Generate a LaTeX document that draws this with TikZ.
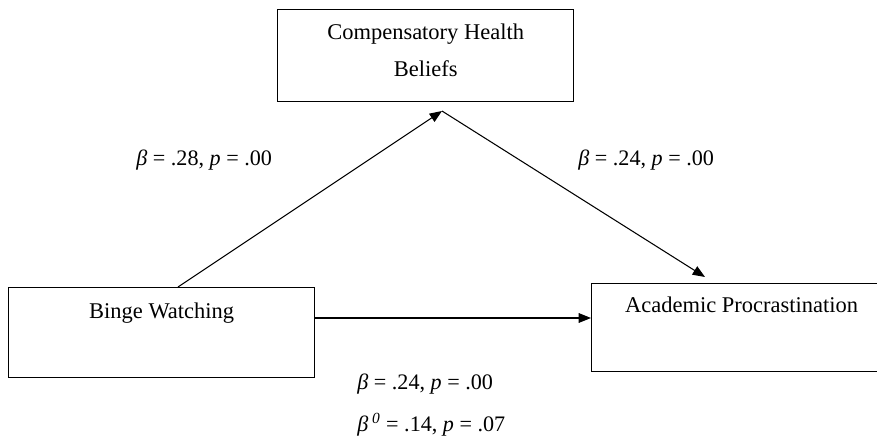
\documentclass[tikz,border=0pt]{standalone}
\usepackage{fontspec}
\setmainfont{Liberation Serif}
\usetikzlibrary{arrows.meta}

\begin{document}
\begin{tikzpicture}[x=0.02cm, y=-0.02cm,
  varbox/.style={draw, line width=0.75pt, inner sep=0pt, align=center,
    font=\fontsize{12.8}{21}\selectfont},
  coef/.style={anchor=west, inner sep=0pt, font=\fontsize{12.6}{15}\selectfont},
  path/.style={line width=0.6pt, -{Triangle[length=7pt, width=5.5pt]}}]
\useasboundingbox (0,0) rectangle (877,439);

% Variables
\node[varbox, anchor=north west, minimum width=296*0.02cm, text height=1.34cm, text depth=0.5cm]
  (chb) at (277,9) {Compensatory Health\\Beliefs};
\node[varbox, anchor=north west, minimum width=306*0.02cm, text height=0.62cm, text depth=1.18cm]
  (bw) at (8,287) {Binge Watching};
\node[varbox, anchor=north west, minimum width=300*0.02cm, text height=0.58cm, text depth=1.18cm]
  (ap) at (591,283) {Academic Procrastination};

% Paths
\coordinate (apex) at (442,111);
\coordinate (tip) at (705,277);
\draw[path] (178,0 |- bw.north) -- (apex);
\draw[path] (apex) -- (tip);
\draw[path] (bw.east |- 0,318) -- (ap.west |- 0,318);

% Coefficients
\node[coef] (ca) at (136,160) {\itshape β\upshape{} = .28, \itshape p\upshape{} = .00};
\node[coef] (cb) at (578,160) {\itshape β\upshape{} = .24, \itshape p\upshape{} = .00};
\node[coef] (cc) at (357,384) {\itshape β\upshape{} = .24, \itshape p\upshape{} = .00};
\node[coef] (cd) at (357,425) {\itshape β\,\textsuperscript{0}\upshape{} = .14, \itshape p\upshape{} = .07};
\end{tikzpicture}
\end{document}
